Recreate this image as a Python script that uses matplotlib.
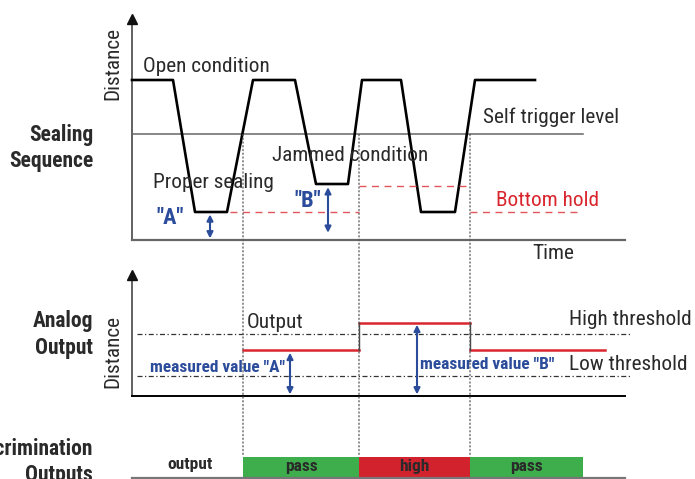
import matplotlib
matplotlib.use("Agg")
import matplotlib.pyplot as plt
from matplotlib.patches import ConnectionPatch

plt.rcParams['font.family'] = ['Roboto Condensed', 'IBM Plex Sans Condensed', 'DejaVu Sans']

# sealing sequence waveform (time, distance)
wave_t = [0, 4.1, 6.3, 9.5, 12.1, 16.3, 18.4, 21.6, 23.0, 26.9, 28.9, 32.3, 34.3, 40.3]
wave_d = [10.0, 10.0, 1.75, 1.75, 10.0, 10.0, 3.5, 3.5, 10.0, 10.0, 1.75, 1.75, 10.0, 10.0]
trigger_level = 6.6
trigger_end = 45.1

# bottom hold segments (start, end, level)
hold_start = [9.8, 22.7, 33.8]
hold_end = [22.7, 33.8, 44.6]
hold_level = [1.75, 3.4, 1.75]

# events where the signal crosses the trigger level
events = [11.1, 22.7, 33.8]

# analog output
out_start = [11.1, 22.7, 33.8]
out_end = [22.7, 33.8, 47.3]
out_level = [2.875, 4.56, 2.875]
high_thr = 3.875
low_thr = 1.27

# discrimination outputs
bar_left = [11.1, 22.7, 33.8]
bar_width = [11.6, 11.1, 11.3]
bar_labels = ['pass', 'high', 'pass']
bar_colors = ['#3dae4b', '#d2222d', '#3dae4b']

W, H = 695, 479
fig = plt.figure(figsize=(6.95, 4.79), dpi=100)
ax1 = fig.add_axes([132 / W, (H - 240) / H, 493 / W, 228 / H])
ax2 = fig.add_axes([132 / W, (H - 396) / H, 493 / W, 128 / H])
ax3 = fig.add_axes([132 / W, 0, 493 / W, 39 / H])

txt = '#2a2a2a'
blue = '#2b4b9b'
red = '#d9262e'

for ax in (ax1, ax2, ax3):
    ax.set_xlim(0, 49.3)
    ax.set_xticks([])
    ax.set_yticks([])
    for s in ax.spines.values():
        s.set_visible(False)
    ax.patch.set_alpha(0)

ax1.set_ylim(0, 14.25)
ax2.set_ylim(0, 8.0)
ax3.set_ylim(0, 39)

arrow_kw = dict(arrowstyle='<|-|>', color=blue, lw=1.5, mutation_scale=9, shrinkA=0, shrinkB=0)

# ---- top panel: sealing sequence ----
ax1.plot([0, 0], [0, 13.8], color='#555555', lw=1.3, clip_on=False)
ax1.plot([0], [13.8], marker='^', color='#111111', ms=6.5, clip_on=False)
ax1.plot([0, 49.3], [0, 0], color='#666666', lw=1.6, clip_on=False)
ax1.plot([0, trigger_end], [trigger_level, trigger_level], color='#666666', lw=1.1)
ax1.plot(wave_t, wave_d, color='black', lw=1.9, clip_on=False)
for s, e, l in zip(hold_start, hold_end, hold_level):
    ax1.plot([s, e], [l, l], color='#e3555c', lw=1.0, dashes=(5, 4))

ax1.annotate('', xy=(7.8, 0.1), xytext=(7.8, 1.6), arrowprops=arrow_kw)
ax1.annotate('', xy=(19.6, 0.45), xytext=(19.6, 3.3), arrowprops=arrow_kw)

fs = 15.3
ax1.text(1.1, 10.85, 'Open condition', fontsize=fs, color=txt, va='center')
ax1.text(2.1, 3.62, 'Proper sealing', fontsize=fs, color=txt, va='center')
ax1.text(14.0, 5.3, 'Jammed condition', fontsize=fs, color=txt, va='center')
ax1.text(35.1, 7.7, 'Self trigger level', fontsize=fs, color=txt, va='center')
ax1.text(36.4, 2.5, 'Bottom hold', fontsize=fs, color=red, va='center')
ax1.text(42.1, -0.85, 'Time', fontsize=fs, color=txt, ha='center', va='center')
ax1.text(3.8, 1.37, '"A"', fontsize=16, color=blue, weight='bold', ha='center', va='center')
ax1.text(17.6, 2.45, '"B"', fontsize=16, color=blue, weight='bold', ha='center', va='center')
ax1.text(-1.9, 11.05, 'Distance', fontsize=fs, color=txt, rotation=90, ha='center', va='center')
ax1.text(-3.9, 5.75, 'Sealing\nSequence', fontsize=15.5, color=txt, weight='bold',
         ha='right', va='center', linespacing=1.25)

# ---- middle panel: analog output ----
ax2.plot([0, 0], [0, 7.55], color='#555555', lw=1.3, clip_on=False)
ax2.plot([0], [7.55], marker='^', color='#111111', ms=6.5, clip_on=False)
ax2.plot([0, 49.3], [0, 0], color='black', lw=1.4, clip_on=False)
for thr in (high_thr, low_thr):
    ax2.plot([0.5, 49.8], [thr, thr], color='#333333', lw=0.9, ls=(0, (4, 2, 1, 2)), clip_on=False)
for s, e, l in zip(out_start, out_end, out_level):
    ax2.plot([s, e], [l, l], color='#d9262e', lw=1.8)
for i in range(1, len(out_start)):
    ax2.plot([out_start[i], out_start[i]], [out_level[i - 1], out_level[i]], color='#444444', lw=1.0)

ax2.annotate('', xy=(15.8, 0.1), xytext=(15.8, 2.7), arrowprops=arrow_kw)
ax2.annotate('', xy=(28.5, 0.1), xytext=(28.5, 4.45), arrowprops=arrow_kw)

ax2.text(11.5, 4.62, 'Output', fontsize=fs, color=txt, va='center')
ax2.text(43.7, 4.8, 'High threshold', fontsize=fs, color=txt, va='center')
ax2.text(43.7, 2.0, 'Low threshold', fontsize=fs, color=txt, va='center')
ax2.text(1.8, 1.8, 'measured value "A"', fontsize=12.5, color=blue, weight='bold', va='center')
ax2.text(28.8, 1.95, 'measured value "B"', fontsize=12.5, color=blue, weight='bold', va='center')
ax2.text(-1.9, 2.75, 'Distance', fontsize=fs, color=txt, rotation=90, ha='center', va='center')
ax2.text(-3.9, 3.85, 'Analog\nOutput', fontsize=15.5, color=txt, weight='bold',
         ha='right', va='center', linespacing=1.25)

# ---- bottom panel: discrimination outputs ----
ax3.plot([0, 49.3], [1.3, 1.3], color='#777777', lw=1.6, clip_on=False)
ax3.bar(bar_left, 20.3, width=bar_width, bottom=2, align='edge', color=bar_colors)
for l, w, lab in zip(bar_left, bar_width, bar_labels):
    ax3.text(l + w / 2, 12.8, lab, fontsize=12.5, color=txt, weight='bold', ha='center', va='center')
ax3.text(5.8, 14.5, 'output', fontsize=12.5, color=txt, weight='bold', ha='center', va='center')
ax3.text(-3.9, 17, 'Discrimination\nOutputs', fontsize=15.5, color=txt, weight='bold',
         ha='right', va='center', linespacing=1.25, clip_on=False)

# dotted event lines through all panels
for t in events:
    con = ConnectionPatch(xyA=(t, trigger_level), coordsA=ax1.transData,
                          xyB=(t, 23.5), coordsB=ax3.transData,
                          color='#555555', lw=0.9, ls=(0, (1, 2)))
    fig.add_artist(con)

fig.savefig('out.png', dpi=100)
